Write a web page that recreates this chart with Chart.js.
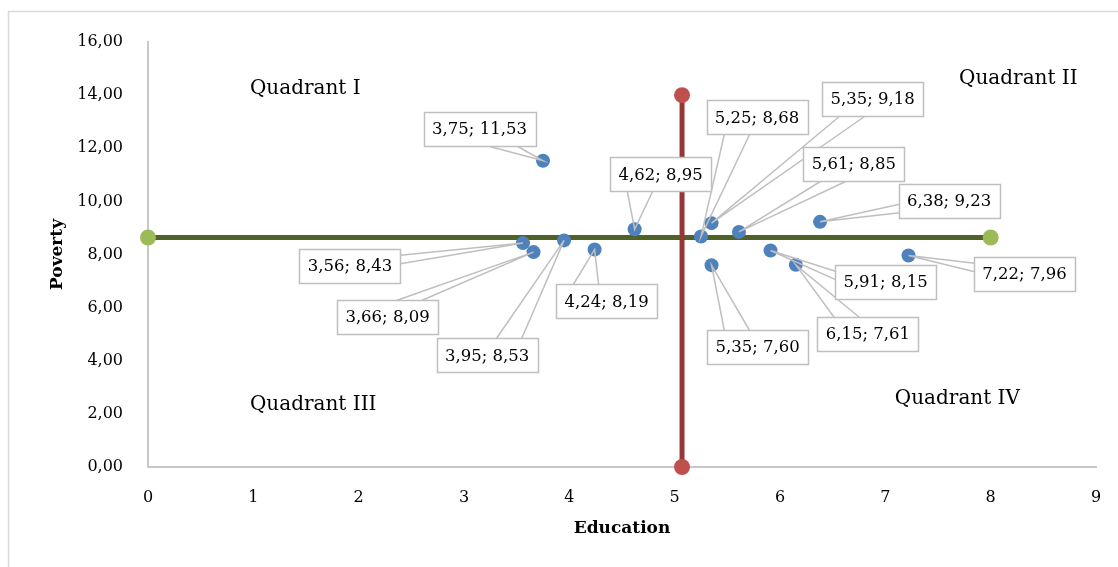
<!DOCTYPE html>
<html><head><meta charset="utf-8">
<script src="https://cdn.jsdelivr.net/npm/chart.js@4.4.0/dist/chart.umd.min.js"></script>
<style>html,body{margin:0;padding:0;background:#fff;}#wrap{width:1118px;height:567px;position:relative;}</style>
</head><body><div id="wrap"><canvas id="c" width="1118" height="567"></canvas></div>
<script>
// ---- data ----
const education = [3.75, 4.62, 5.25, 5.35, 5.61, 6.38, 3.56, 3.66, 3.95, 4.24, 5.35, 5.91, 6.15, 7.22];
const poverty   = [11.53, 8.95, 8.68, 9.18, 8.85, 9.23, 8.43, 8.09, 8.53, 8.19, 7.60, 8.15, 7.61, 7.96];
const educationMean = 5.07;
const povertyMean = 8.64;
const verticalLineRange = [0, 14];
const horizontalLineRange = [0, 8];
const quadrantNames = ['Quadrant I', 'Quadrant II', 'Quadrant III', 'Quadrant IV'];
const xAxisTitle = 'Education';
const yAxisTitle = 'Poverty';

// ---- layout (not data) ----
const quadrantAnchors = [[0.968, 14.23], [7.70, 14.61], [0.968, 2.33], [7.09, 2.56]];
const labelLayout = [
  [-63.5, -32, 'b'], [26, -55, 'b'], [56, -119, 'b'], [161, -124, 'b'], [115, -68, 'b'],
  [129, -21, 'l'], [-173, 23, 'r'], [-146, 65, 't'], [-77, 115, 't'], [12, 52, 't'],
  [46, 82, 't'], [115, 31, 'l'], [72, 69, 't'], [116, 18, 'l']
];

const FONT = "'DejaVu Serif', serif";
const fmt = v => v.toFixed(2).replace('.', ',');

const pointsData = education.map((e, i) => ({x: e, y: poverty[i]}));
const vLine = verticalLineRange.map(v => ({x: educationMean, y: v}));
const hLine = horizontalLineRange.map(v => ({x: v, y: povertyMean}));

const framePlugin = {
  id: 'frame',
  beforeDraw(chart) {
    const ctx = chart.ctx;
    ctx.save();
    ctx.strokeStyle = '#D9D9D9';
    ctx.lineWidth = 1.5;
    ctx.strokeRect(8.5, 11.5, 1200, 700);
    ctx.restore();
  }
};

const labelPlugin = {
  id: 'callouts',
  afterDatasetsDraw(chart) {
    const {ctx, scales: {x, y}} = chart;
    ctx.save();
    ctx.font = '16.5px ' + FONT;
    const boxes = education.map((ev, i) => {
      const px = x.getPixelForValue(ev), py = y.getPixelForValue(poverty[i]);
      const [dx, dy, side] = labelLayout[i];
      const text = fmt(ev) + '; ' + fmt(poverty[i]);
      const w = Math.round(ctx.measureText(text).width + 17), h = 34;
      const cx = px + dx, cy = py + dy;
      const l = Math.round(cx - w / 2) + 0.5, t = Math.round(cy - h / 2) + 0.5, r = l + w, b = t + h;
      let a1, a2;
      if (side === 'b' || side === 't') {
        const ey = side === 'b' ? b : t;
        if (px < cx) { a1 = [l + w / 6, ey]; a2 = [l + 5 * w / 12, ey]; }
        else { a1 = [r - w / 6, ey]; a2 = [r - 5 * w / 12, ey]; }
      } else {
        const ex = side === 'l' ? l : r;
        if (py < cy) { a1 = [ex, t + h / 6]; a2 = [ex, t + 5 * h / 12]; }
        else { a1 = [ex, b - h / 6]; a2 = [ex, b - 5 * h / 12]; }
      }
      return {px, py, text, l, t, w, h, cx, cy, a1, a2};
    });
    ctx.strokeStyle = '#BFBFBF';
    ctx.lineWidth = 1.5;
    boxes.forEach(bx => {
      ctx.beginPath();
      ctx.moveTo(bx.a1[0], bx.a1[1]);
      ctx.lineTo(bx.px, bx.py);
      ctx.lineTo(bx.a2[0], bx.a2[1]);
      ctx.stroke();
    });
    boxes.forEach(bx => {
      ctx.fillStyle = '#fff';
      ctx.fillRect(bx.l, bx.t, bx.w, bx.h);
      ctx.strokeStyle = '#BFBFBF';
      ctx.strokeRect(bx.l, bx.t, bx.w, bx.h);
      ctx.fillStyle = '#000';
      ctx.textAlign = 'center';
      ctx.textBaseline = 'middle';
      ctx.fillText(bx.text, bx.cx, bx.cy + 1);
    });
    ctx.font = '20px ' + FONT;
    ctx.textAlign = 'left';
    ctx.textBaseline = 'middle';
    ctx.fillStyle = '#000';
    quadrantNames.forEach((q, i) => {
      ctx.fillText(q, x.getPixelForValue(quadrantAnchors[i][0]), y.getPixelForValue(quadrantAnchors[i][1]));
    });
    ctx.restore();
  }
};

new Chart(document.getElementById('c'), {
  type: 'scatter',
  data: {
    datasets: [
      {
        label: 'Regions', data: pointsData,
        backgroundColor: '#4F81BD', borderColor: '#4F81BD',
        pointRadius: 7, pointBorderWidth: 0, pointHoverRadius: 7, clip: false
      },
      {
        label: 'Education mean', data: vLine, showLine: true,
        borderColor: '#953735', borderWidth: 5,
        backgroundColor: '#C0504D', pointBackgroundColor: '#C0504D',
        pointRadius: 8, pointBorderWidth: 0, pointHoverRadius: 8, clip: false
      },
      {
        label: 'Poverty mean', data: hLine, showLine: true,
        borderColor: '#4F6228', borderWidth: 5,
        backgroundColor: '#9BBB59', pointBackgroundColor: '#9BBB59',
        pointRadius: 8, pointBorderWidth: 0, pointHoverRadius: 8, clip: false
      }
    ]
  },
  options: {
    responsive: false,
    animation: false,
    devicePixelRatio: 1,
    events: [],
    layout: {padding: {left: 40, right: 22, top: 42, bottom: 0}},
    plugins: {legend: {display: false}, tooltip: {enabled: false}},
    scales: {
      x: {
        type: 'linear', min: 0, max: 9,
        ticks: {stepSize: 1, padding: 1, color: '#000', font: {family: FONT, size: 16}},
        grid: {display: true, color: 'rgba(0,0,0,0)', drawTicks: true, tickLength: 20},
        border: {display: true, color: '#C8C8C8', width: 2},
        title: {display: true, text: xAxisTitle, color: '#000', font: {family: FONT, size: 17, weight: 'bold'}, padding: {top: 0, bottom: 28}},
        afterFit(s) { s.height = 100; }
      },
      y: {
        type: 'linear', min: 0, max: 16,
        ticks: {stepSize: 2, padding: 1, color: '#000', font: {family: FONT, size: 16}, callback: v => fmt(v)},
        grid: {display: true, color: 'rgba(0,0,0,0)', drawTicks: true, tickLength: 24},
        border: {display: true, color: '#C8C8C8', width: 2},
        title: {display: true, text: yAxisTitle, color: '#000', font: {family: FONT, size: 17, weight: 'bold'}, padding: {top: 7, bottom: 0}},
        afterFit(s) { s.width = 108; }
      }
    }
  },
  plugins: [framePlugin, labelPlugin]
});
</script>
</body></html>
